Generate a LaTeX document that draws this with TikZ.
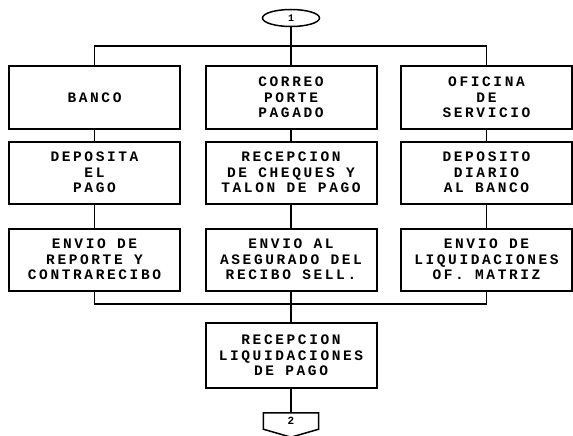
\documentclass[tikz,border=0pt]{standalone}
\usepackage{fontspec}
\usetikzlibrary{shapes.geometric,calc}
\newfontfamily\boxfont[LetterSpace=18]{Liberation Mono}
\begin{document}
\begin{tikzpicture}[x=1pt,y=-1pt,
  box/.style={draw=black,line width=2pt,minimum width=171pt,minimum height=62pt,
    inner sep=0pt,align=center,font=\boxfont\bfseries\fontsize{14.5}{15.6}\selectfont},
  conn/.style={draw=black,line width=1.2pt}]
\useasboundingbox (0,0) rectangle (573,436);
\fill[white] (0,0) rectangle (573,436);
% connectors
\node[ellipse,draw,line width=1.5pt,minimum width=57pt,minimum height=17pt,inner sep=0pt,
  font=\boxfont\bfseries\fontsize{10}{10}\selectfont] (c1) at (291,18) {1};
% row 1
\node[box] (b11) at (94.5,97.5) {BANCO};
\node[box] (b12) at (291,97.5) {CORREO\\PORTE\\PAGADO};
\node[box] (b13) at (486.5,97.5) {OFICINA\\DE\\SERVICIO};
% row 2
\node[box] (b21) at (94.5,172.5) {DEPOSITA\\EL\\PAGO};
\node[box] (b22) at (291,172.5) {RECEPCION\\DE CHEQUES Y\\TALON DE PAGO};
\node[box] (b23) at (486.5,172.5) {DEPOSITO\\DIARIO\\AL BANCO};
% row 3
\node[box] (b31) at (94.5,259.5) {ENVIO DE\\REPORTE Y\\CONTRARECIBO};
\node[box] (b32) at (291,259.5) {ENVIO AL\\ASEGURADO DEL\\RECIBO SELL.};
\node[box] (b33) at (486.5,259.5) {ENVIO DE\\LIQUIDACIONES\\OF. MATRIZ};
% bottom
\node[box,minimum height=65pt] (b4) at (291,355.5) {RECEPCION\\LIQUIDACIONES\\DE PAGO};
\node[draw=none,minimum width=55pt,minimum height=16pt,inner sep=0pt,
  font=\boxfont\bfseries\fontsize{11}{11}\selectfont] (c2) at (291,421) {2};
\draw[line width=1.5pt,line join=miter] (c2.south west) -- (c2.north west) -- (c2.north east)
  -- (c2.south east) -- ($(c2.south)+(0,8)$) -- cycle;
% bars
\coordinate (tl) at (94.5,46);
\coordinate (tr) at (486.5,46);
\coordinate (bl) at (94.5,304);
\coordinate (br) at (486.5,304);
\draw[conn] (b11.north) -- (tl) -- (tr) -- (b13.north);
\draw[conn] (c1.south) -- (b12.north);
\draw[conn] (b11) -- (b21);
\draw[conn] (b12) -- (b22);
\draw[conn] (b13) -- (b23);
\draw[conn] (b21) -- (b31);
\draw[conn] (b22) -- (b32);
\draw[conn] (b23) -- (b33);
\draw[conn] (b31.south) -- (bl) -- (br) -- (b33.south);
\draw[conn] (b32.south) -- (b4.north);
\draw[conn] (b4.south) -- (c2.north);
\end{tikzpicture}
\end{document}
